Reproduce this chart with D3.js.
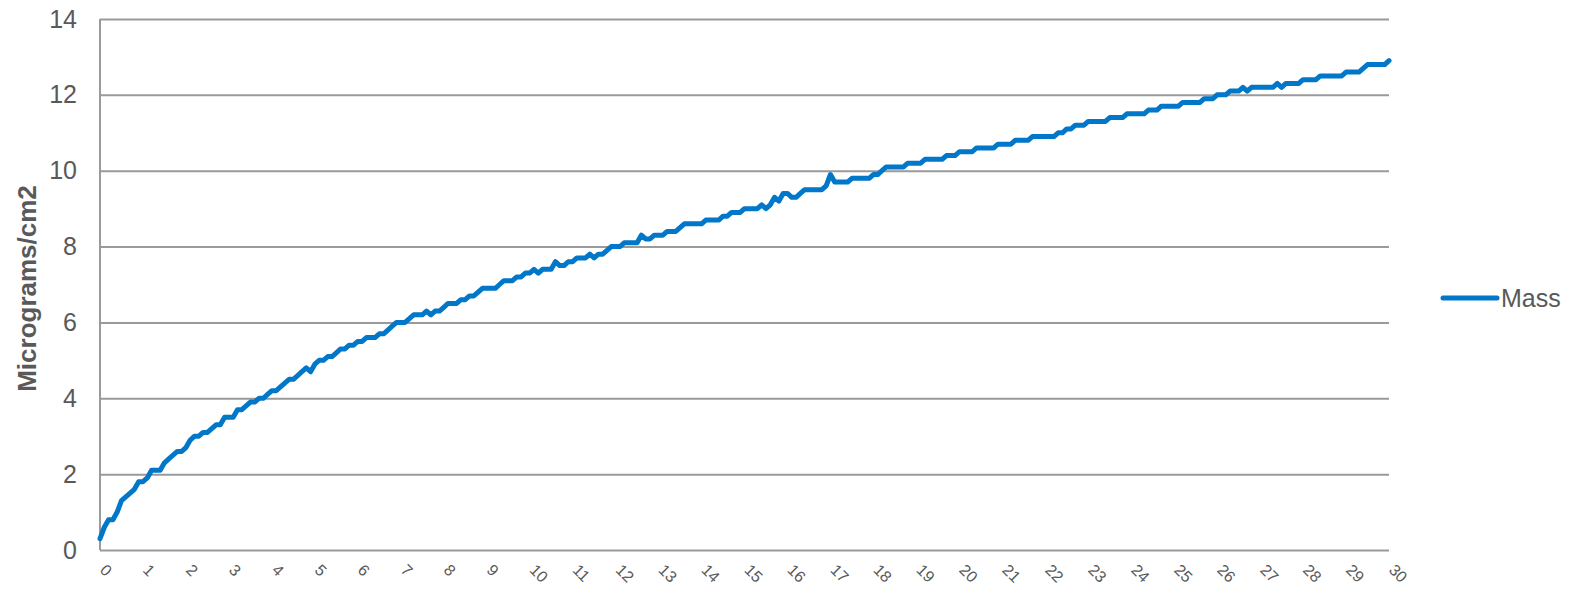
<!DOCTYPE html>
<html>
<head>
<meta charset="utf-8">
<script src="https://cdn.jsdelivr.net/npm/d3@7"></script>
<style>
  body { margin: 0; background: #fff; }
  text { font-family: Arial, "Liberation Sans", sans-serif; fill: #595959; }
</style>
</head>
<body>
<svg id="chart"></svg>
<script>
// tick labels on the x axis (days)
const dayLabels = d3.range(0, 31)
const yTicks = [0, 2, 4, 6, 8, 10, 12, 14]
const seriesName = "Mass"

// mass readings, one every 0.1 day
const mass = [
  0.3, 0.6, 0.8, 0.8, 1.0, 1.3, 1.4, 1.5, 1.6, 1.8,
  1.8, 1.9, 2.1, 2.1, 2.1, 2.3, 2.4, 2.5, 2.6, 2.6,
  2.7, 2.9, 3.0, 3.0, 3.1, 3.1, 3.2, 3.3, 3.3, 3.5,
  3.5, 3.5, 3.7, 3.7, 3.8, 3.9, 3.9, 4.0, 4.0, 4.1,
  4.2, 4.2, 4.3, 4.4, 4.5, 4.5, 4.6, 4.7, 4.8, 4.7,
  4.9, 5.0, 5.0, 5.1, 5.1, 5.2, 5.3, 5.3, 5.4, 5.4,
  5.5, 5.5, 5.6, 5.6, 5.6, 5.7, 5.7, 5.8, 5.9, 6.0,
  6.0, 6.0, 6.1, 6.2, 6.2, 6.2, 6.3, 6.2, 6.3, 6.3,
  6.4, 6.5, 6.5, 6.5, 6.6, 6.6, 6.7, 6.7, 6.8, 6.9,
  6.9, 6.9, 6.9, 7.0, 7.1, 7.1, 7.1, 7.2, 7.2, 7.3,
  7.3, 7.4, 7.3, 7.4, 7.4, 7.4, 7.6, 7.5, 7.5, 7.6,
  7.6, 7.7, 7.7, 7.7, 7.8, 7.7, 7.8, 7.8, 7.9, 8.0,
  8.0, 8.0, 8.1, 8.1, 8.1, 8.1, 8.3, 8.2, 8.2, 8.3,
  8.3, 8.3, 8.4, 8.4, 8.4, 8.5, 8.6, 8.6, 8.6, 8.6,
  8.6, 8.7, 8.7, 8.7, 8.7, 8.8, 8.8, 8.9, 8.9, 8.9,
  9.0, 9.0, 9.0, 9.0, 9.1, 9.0, 9.1, 9.3, 9.2, 9.4,
  9.4, 9.3, 9.3, 9.4, 9.5, 9.5, 9.5, 9.5, 9.5, 9.6,
  9.9, 9.7, 9.7, 9.7, 9.7, 9.8, 9.8, 9.8, 9.8, 9.8,
  9.9, 9.9, 10.0, 10.1, 10.1, 10.1, 10.1, 10.1, 10.2, 10.2,
  10.2, 10.2, 10.3, 10.3, 10.3, 10.3, 10.3, 10.4, 10.4, 10.4,
  10.5, 10.5, 10.5, 10.5, 10.6, 10.6, 10.6, 10.6, 10.6, 10.7,
  10.7, 10.7, 10.7, 10.8, 10.8, 10.8, 10.8, 10.9, 10.9, 10.9,
  10.9, 10.9, 10.9, 11.0, 11.0, 11.1, 11.1, 11.2, 11.2, 11.2,
  11.3, 11.3, 11.3, 11.3, 11.3, 11.4, 11.4, 11.4, 11.4, 11.5,
  11.5, 11.5, 11.5, 11.5, 11.6, 11.6, 11.6, 11.7, 11.7, 11.7,
  11.7, 11.7, 11.8, 11.8, 11.8, 11.8, 11.8, 11.9, 11.9, 11.9,
  12.0, 12.0, 12.0, 12.1, 12.1, 12.1, 12.2, 12.1, 12.2, 12.2,
  12.2, 12.2, 12.2, 12.2, 12.3, 12.2, 12.3, 12.3, 12.3, 12.3,
  12.4, 12.4, 12.4, 12.4, 12.5, 12.5, 12.5, 12.5, 12.5, 12.5,
  12.6, 12.6, 12.6, 12.6, 12.7, 12.8, 12.8, 12.8, 12.8, 12.8,
  12.9
]

const width = 1576
const height = 589
const margins = { top: 19, right: 187, bottom: 39, left: 100 }
const gridColor = "#9a9a9a"
const lineColor = "#0077c8"

const svg = d3.select("#chart")
  .attr("width", width)
  .attr("height", height)

const x = d3.scaleLinear()
  .domain([0, mass.length - 1])
  .range([margins.left, width - margins.right])

const xDay = d3.scaleLinear()
  .domain([0, 30])
  .range([margins.left, width - margins.right])

const y = d3.scaleLinear()
  .domain([0, 14])
  .range([height - margins.bottom, margins.top])

//* gridlines + y labels
const yAxis = svg.append("g")
  .attr("transform", `translate(${margins.left},0)`)
  .call(d3.axisLeft(y).tickValues(yTicks)
    .tickSize(-(width - margins.left - margins.right))
    .tickPadding(23))

yAxis.select(".domain").remove()
yAxis.selectAll("line").attr("stroke", gridColor).attr("stroke-width", 2)
yAxis.selectAll("text")
  .attr("font-size", "25px")
  .attr("fill", "#595959")
  .style("font-family", "Arial, 'Liberation Sans', sans-serif")

// left axis line
svg.append("line")
  .attr("x1", margins.left).attr("x2", margins.left)
  .attr("y1", y(14)).attr("y2", y(0))
  .attr("stroke", gridColor).attr("stroke-width", 2)

//* x labels (rotated)
svg.append("g")
  .selectAll("text")
  .data(dayLabels)
  .join("text")
  .attr("transform", d => `translate(${xDay(d) + 3},${y(0) + 17}) rotate(45)`)
  .attr("font-size", "16px")
  .attr("text-anchor", "start")
  .attr("dy", "0.35em")
  .text(d => d)

//* line
const line = d3.line()
  .x((d, i) => x(i))
  .y(d => y(d))

svg.append("path")
  .datum(mass)
  .attr("fill", "none")
  .attr("stroke", lineColor)
  .attr("stroke-width", 5)
  .attr("stroke-linejoin", "round")
  .attr("stroke-linecap", "round")
  .attr("d", line)

//* y title
svg.append("text")
  .attr("transform", `translate(36,${(y(0) + y(14)) / 2 + 4}) rotate(-90)`)
  .attr("text-anchor", "middle")
  .attr("font-size", "26px")
  .attr("font-weight", "bold")
  .text("Micrograms/cm2")

//* legend
const legend = svg.append("g").attr("transform", "translate(1443,298)")
legend.append("line")
  .attr("x1", 0).attr("x2", 54)
  .attr("stroke", lineColor)
  .attr("stroke-width", 5)
  .attr("stroke-linecap", "round")
legend.append("text")
  .attr("x", 58)
  .attr("dy", "0.35em")
  .attr("font-size", "25px")
  .text(seriesName)
</script>
</body>
</html>
